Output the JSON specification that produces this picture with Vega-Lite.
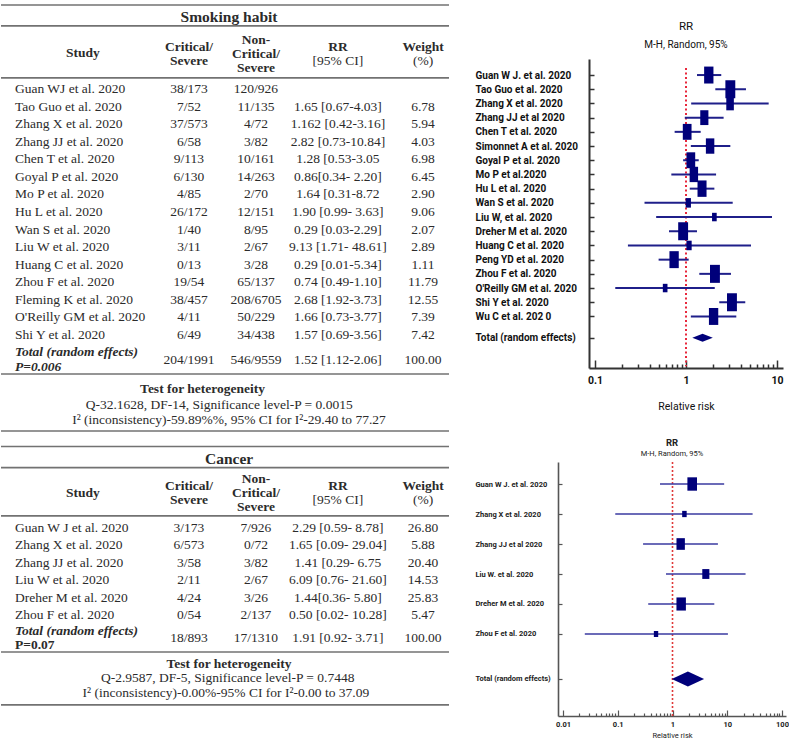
{
  "$schema": "https://vega.github.io/schema/vega-lite/v6.json",
  "background": "white",
  "padding": 0,
  "spacing": 5,
  "resolve": {"scale": {"size": "independent"}},
  "config": {
    "view": {"stroke": null},
    "text": {"font": "Liberation Serif", "fontSize": 13.5, "color": "#2b2b2b", "baseline": "middle"},
    "rule": {"color": "#727272", "strokeWidth": 1.6},
    "axis": {"labelOverlap": false}
  },
  "datasets": {
    "smoking": [
      {"study": "Guan WJ et al. 2020", "crit": "38/173", "non": "120/926", "rr": "", "w": ""},
      {"study": "Tao Guo et al. 2020", "crit": "7/52", "non": "11/135", "rr": "1.65 [0.67-4.03]", "w": "6.78"},
      {"study": "Zhang  X et al. 2020", "crit": "37/573", "non": "4/72", "rr": "1.162 [0.42-3.16]", "w": "5.94"},
      {"study": "Zhang  JJ et al. 2020", "crit": "6/58", "non": "3/82", "rr": "2.82 [0.73-10.84]", "w": "4.03"},
      {"study": "Chen T et al. 2020", "crit": "9/113", "non": "10/161", "rr": "1.28 [0.53-3.05", "w": "6.98"},
      {"study": "Goyal P et al. 2020", "crit": "6/130", "non": "14/263", "rr": "0.86[0.34- 2.20]", "w": "6.45"},
      {"study": "Mo P et al. 2020", "crit": "4/85", "non": "2/70", "rr": "1.64 [0.31-8.72", "w": "2.90"},
      {"study": "Hu L et al. 2020", "crit": "26/172", "non": "12/151", "rr": "1.90 [0.99- 3.63]", "w": "9.06"},
      {"study": "Wan S et al. 2020", "crit": "1/40", "non": "8/95", "rr": "0.29 [0.03-2.29]", "w": "2.07"},
      {"study": "Liu W et al. 2020", "crit": "3/11", "non": "2/67", "rr": "9.13 [1.71- 48.61]", "w": "2.89"},
      {"study": "Huang  C et al. 2020", "crit": "0/13", "non": "3/28", "rr": "0.29 [0.01-5.34]", "w": "1.11"},
      {"study": "Zhou F et al. 2020", "crit": "19/54", "non": "65/137", "rr": "0.74 [0.49-1.10]", "w": "11.79"},
      {"study": "Fleming  K et al. 2020", "crit": "38/457", "non": "208/6705", "rr": "2.68 [1.92-3.73]", "w": "12.55"},
      {"study": "O'Reilly  GM et al. 2020", "crit": "4/11", "non": "50/229", "rr": "1.66 [0.73-3.77]", "w": "7.39"},
      {"study": "Shi Y et al. 2020", "crit": "6/49", "non": "34/438", "rr": "1.57 [0.69-3.56]", "w": "7.42"}
    ],
    "smokingTotal": [
      {"study": "Total (random effects)", "p": "P=0.006", "crit": "204/1991", "non": "546/9559", "rr": "1.52 [1.12-2.06]", "w": "100.00"}
    ],
    "cancer": [
      {"study": "Guan W J et al. 2020", "crit": "3/173", "non": "7/926", "rr": "2.29 [0.59- 8.78]", "w": "26.80"},
      {"study": "Zhang  X et al. 2020", "crit": "6/573", "non": "0/72", "rr": "1.65 [0.09- 29.04]", "w": "5.88"},
      {"study": "Zhang  JJ et al. 2020", "crit": "3/58", "non": "3/82", "rr": "1.41 [0.29- 6.75", "w": "20.40"},
      {"study": "Liu W et al. 2020", "crit": "2/11", "non": "2/67", "rr": "6.09 [0.76- 21.60]", "w": "14.53"},
      {"study": "Dreher  M et al. 2020", "crit": "4/24", "non": "3/26", "rr": "1.44[0.36- 5.80]", "w": "25.83"},
      {"study": "Zhou  F et al. 2020", "crit": "0/54", "non": "2/137", "rr": "0.50 [0.02- 10.28]", "w": "5.47"}
    ],
    "cancerTotal": [
      {"study": "Total (random effects)", "p": "P=0.07", "crit": "18/893", "non": "17/1310", "rr": "1.91 [0.92- 3.71]", "w": "100.00"}
    ],
    "forestSmoking": [
      {"study": "Guan W J. et al. 2020", "rr": 1.78, "lo": 1.32, "hi": 2.44, "weight": 6.94},
      {"study": "Tao Guo et al. 2020", "rr": 3.07, "lo": 2.10, "hi": 4.56, "weight": 7.83},
      {"study": "Zhang X et al. 2020", "rr": 3.05, "lo": 1.14, "hi": 8.1, "weight": 4.58},
      {"study": "Zhang JJ et al 2020", "rr": 1.59, "lo": 0.97, "hi": 2.59, "weight": 5.31},
      {"study": "Chen T et al. 2020", "rr": 1.03, "lo": 0.75, "hi": 1.45, "weight": 6.10},
      {"study": "Simonnet A  et al. 2020", "rr": 1.84, "lo": 1.13, "hi": 3.07, "weight": 5.69},
      {"study": "Goyal P et al. 2020", "rr": 1.13, "lo": 0.93, "hi": 1.38, "weight": 6.10},
      {"study": "Mo P et al.2020", "rr": 1.22, "lo": 0.69, "hi": 2.14, "weight": 5.69},
      {"study": "Hu L et al. 2020", "rr": 1.50, "lo": 1.10, "hi": 2.05, "weight": 6.51},
      {"study": "Wan S et al. 2020", "rr": 1.06, "lo": 0.35, "hi": 3.26, "weight": 2.20},
      {"study": "Liu W, et al. 2020", "rr": 2.05, "lo": 0.47, "hi": 8.81, "weight": 1.73},
      {"study": "Dreher M  et al. 2020", "rr": 0.93, "lo": 0.65, "hi": 1.32, "weight": 7.83},
      {"study": "Huang C et al. 2020", "rr": 1.08, "lo": 0.23, "hi": 5.18, "weight": 2.20},
      {"study": "Peng YD et al. 2020", "rr": 0.74, "lo": 0.50, "hi": 1.07, "weight": 6.94},
      {"study": "Zhou F et al. 2020", "rr": 2.08, "lo": 1.40, "hi": 3.12, "weight": 7.83},
      {"study": "O'Reilly GM et al. 2020", "rr": 0.59, "lo": 0.167, "hi": 2.07, "weight": 1.73},
      {"study": "Shi Y et al. 2020", "rr": 3.20, "lo": 2.32, "hi": 4.48, "weight": 7.83},
      {"study": "Wu C et al. 202 0", "rr": 2.01, "lo": 1.13, "hi": 3.57, "weight": 6.94}
    ],
    "forestSmokingTotal": [
      {"study": "Total (random effects)", "rr": 1.52, "lo": 1.12, "hi": 2.06}
    ],
    "forestCancer": [
      {"study": "Guan W J. et al. 2020", "rr": 2.29, "lo": 0.59, "hi": 8.78, "weight": 26.80},
      {"study": "Zhang X et al. 2020", "rr": 1.65, "lo": 0.09, "hi": 29.04, "weight": 5.88},
      {"study": "Zhang JJ et al 2020", "rr": 1.41, "lo": 0.29, "hi": 6.75, "weight": 20.40},
      {"study": "Liu W. et al. 2020", "rr": 4.06, "lo": 0.76, "hi": 21.60, "weight": 14.53},
      {"study": "Dreher M  et al. 2020", "rr": 1.44, "lo": 0.36, "hi": 5.80, "weight": 25.83},
      {"study": "Zhou F et al. 2020", "rr": 0.50, "lo": 0.025, "hi": 10.28, "weight": 5.47}
    ],
    "forestCancerTotal": [
      {"study": "Total (random effects)", "rr": 1.91, "lo": 0.92, "hi": 3.71}
    ]
  },
  "vconcat": [
    {
      "hconcat": [
        {
          "width": 448,
          "height": 374,
          "layer": [
            {
              "data": {"name": "smoking"},
              "transform": [{"window": [{"op": "row_number", "as": "row"}]}],
              "encoding": {
                "y": {"field": "row", "type": "quantitative",
                  "scale": {"domain": [-0.707, 20.58], "reverse": true, "nice": false, "zero": false},
                  "axis": null}
              },
              "layer": [
                {"mark": {"type": "text", "align": "left"}, "encoding": {"x": {"datum": 3.125, "type": "quantitative", "scale": {"domain": [0, 100], "nice": false, "zero": false}, "axis": null}, "text": {"field": "study"}}},
                {"mark": {"type": "text"}, "encoding": {"x": {"datum": 41.96, "axis": null}, "text": {"field": "crit"}}},
                {"mark": {"type": "text"}, "encoding": {"x": {"datum": 56.9, "axis": null}, "text": {"field": "non"}}},
                {"mark": {"type": "text"}, "encoding": {"x": {"datum": 75.2, "axis": null}, "text": {"field": "rr"}}},
                {"mark": {"type": "text"}, "encoding": {"x": {"datum": 94.2, "axis": null}, "text": {"field": "w"}}}
              ]
            },
            {
              "data": {"name": "smokingTotal"},
              "encoding": {"y": {"datum": 16.4, "axis": null}},
              "layer": [
                {"mark": {"type": "text", "align": "left", "fontWeight": "bold", "fontStyle": "italic", "dy": -7.5}, "encoding": {"x": {"datum": 3.125, "axis": null}, "text": {"field": "study"}}},
                {"mark": {"type": "text", "align": "left", "fontWeight": "bold", "fontStyle": "italic", "dy": 7.5}, "encoding": {"x": {"datum": 3.125, "axis": null}, "text": {"field": "p"}}},
                {"mark": {"type": "text"}, "encoding": {"x": {"datum": 41.96, "axis": null}, "text": {"field": "crit"}}},
                {"mark": {"type": "text"}, "encoding": {"x": {"datum": 56.9, "axis": null}, "text": {"field": "non"}}},
                {"mark": {"type": "text"}, "encoding": {"x": {"datum": 75.2, "axis": null}, "text": {"field": "rr"}}},
                {"mark": {"type": "text"}, "encoding": {"x": {"datum": 94.2, "axis": null}, "text": {"field": "w"}}}
              ]
            },
            {
              "data": {"values": [{}]},
              "layer": [
                {"mark": {"type": "rule"}, "encoding": {"x": {"datum": 0, "axis": null}, "x2": {"datum": 100}, "y": {"datum": -3.78, "axis": null}}},
                {"mark": {"type": "rule"}, "encoding": {"x": {"datum": 0, "axis": null}, "x2": {"datum": 100}, "y": {"datum": -2.59, "axis": null}}},
                {"mark": {"type": "rule"}, "encoding": {"x": {"datum": 0, "axis": null}, "x2": {"datum": 100}, "y": {"datum": 0.37, "axis": null}}},
                {"mark": {"type": "rule"}, "encoding": {"x": {"datum": 0, "axis": null}, "x2": {"datum": 100}, "y": {"datum": 17.22, "axis": null}}},
                {"mark": {"type": "rule"}, "encoding": {"x": {"datum": 0, "axis": null}, "x2": {"datum": 100}, "y": {"datum": 20.47, "axis": null}}},
                {"mark": {"type": "text", "fontWeight": "bold", "fontSize": 15.5}, "encoding": {"x": {"datum": 50.9, "axis": null}, "y": {"datum": -3.1, "axis": null}, "text": {"value": "Smoking habit"}}},
                {"mark": {"type": "text", "fontWeight": "bold"}, "encoding": {"x": {"datum": 18.3, "axis": null}, "y": {"datum": -1.05, "axis": null}, "text": {"value": "Study"}}},
                {"mark": {"type": "text", "fontWeight": "bold", "dy": -7}, "encoding": {"x": {"datum": 41.96, "axis": null}, "y": {"datum": -1.02, "axis": null}, "text": {"value": "Critical/"}}},
                {"mark": {"type": "text", "fontWeight": "bold", "dy": 7}, "encoding": {"x": {"datum": 41.96, "axis": null}, "y": {"datum": -1.02, "axis": null}, "text": {"value": "Severe"}}},
                {"mark": {"type": "text", "fontWeight": "bold", "dy": -14}, "encoding": {"x": {"datum": 56.9, "axis": null}, "y": {"datum": -1.02, "axis": null}, "text": {"value": "Non-"}}},
                {"mark": {"type": "text", "fontWeight": "bold"}, "encoding": {"x": {"datum": 56.9, "axis": null}, "y": {"datum": -1.02, "axis": null}, "text": {"value": "Critical/"}}},
                {"mark": {"type": "text", "fontWeight": "bold", "dy": 14}, "encoding": {"x": {"datum": 56.9, "axis": null}, "y": {"datum": -1.02, "axis": null}, "text": {"value": "Severe"}}},
                {"mark": {"type": "text", "fontWeight": "bold", "dy": -7}, "encoding": {"x": {"datum": 75.2, "axis": null}, "y": {"datum": -1.02, "axis": null}, "text": {"value": "RR"}}},
                {"mark": {"type": "text", "dy": 7}, "encoding": {"x": {"datum": 75.2, "axis": null}, "y": {"datum": -1.02, "axis": null}, "text": {"value": "[95% CI]"}}},
                {"mark": {"type": "text", "fontWeight": "bold", "dy": -7}, "encoding": {"x": {"datum": 94.2, "axis": null}, "y": {"datum": -1.02, "axis": null}, "text": {"value": "Weight"}}},
                {"mark": {"type": "text", "dy": 7}, "encoding": {"x": {"datum": 94.2, "axis": null}, "y": {"datum": -1.02, "axis": null}, "text": {"value": "(%)"}}},
                {"mark": {"type": "text", "fontWeight": "bold"}, "encoding": {"x": {"datum": 45, "axis": null}, "y": {"datum": 18.07, "axis": null}, "text": {"value": "Test for heterogeneity"}}},
                {"mark": {"type": "text"}, "encoding": {"x": {"datum": 48.7, "axis": null}, "y": {"datum": 18.98, "axis": null}, "text": {"value": "Q-32.1628, DF-14, Significance  level-P = 0.0015"}}},
                {"mark": {"type": "text"}, "encoding": {"x": {"datum": 50.9, "axis": null}, "y": {"datum": 19.84, "axis": null}, "text": {"value": "I² (inconsistency)-59.89%%,  95% CI for I²-29.40 to 77.27"}}}
              ]
            }
          ]
        },
        {
          "width": 194,
          "height": 309,
          "title": {"text": ["", "RR"], "subtitle": "M-H, Random, 95%", "font": "Roboto", "fontSize": 11.5, "fontWeight": "normal", "color": "#111111", "lineHeight": 20, "subtitleFont": "Roboto", "subtitleFontSize": 10, "subtitleColor": "#111111", "subtitlePadding": 8, "offset": 9, "anchor": "middle"},
          "layer": [
            {
              "data": {"values": [{}]},
              "mark": {"type": "rule", "color": "#e8283c", "strokeDash": [2, 2.5], "strokeWidth": 2},
              "encoding": {"x": {"datum": 1, "type": "quantitative"}, "y": {"datum": "t2", "type": "nominal"}, "y2": {"datum": "b23"}}
            },
            {
              "data": {"name": "forestSmoking"},
              "mark": {"type": "rule", "color": "#1f1f8a", "strokeWidth": 2},
              "encoding": {
                "x": {"field": "lo", "type": "quantitative",
                  "scale": {"type": "log", "domain": [0.0859, 11.64], "nice": false},
                  "axis": {"values": [0.1, 0.2, 0.3, 0.4, 0.5, 0.6, 0.7, 0.8, 0.9, 1, 2, 3, 4, 5, 6, 7, 8, 9, 10],
                    "labelExpr": "datum.value == 0.1 ? '0.1' : datum.value == 1 ? '1' : datum.value == 10 ? '10' : ''",
                    "tickSize": -8, "tickDash": {"condition": {"test": "datum.value == 0.1 || datum.value == 1 || datum.value == 10", "value": []}, "value": [4, 20]},
                    "tickColor": "#333333", "tickWidth": 1.5, "domainColor": "#333333", "domainWidth": 2,
                    "labelFont": "Roboto", "labelFontSize": 10.5, "labelFontWeight": "bold", "labelColor": "#111111", "labelPadding": 15, "labelFlush": false,
                    "title": "Relative risk", "titleFont": "Roboto", "titleFontSize": 10.5, "titleFontWeight": "normal", "titleColor": "#111111", "titlePadding": 16, "grid": false}},
                "x2": {"field": "hi"},
                "y": {"field": "study", "type": "nominal",
                  "scale": {"type": "point", "padding": 0.26, "domain": ["t1", "t2", "Guan W J. et al. 2020", "b1", "Tao Guo et al. 2020", "b2", "Zhang X et al. 2020", "b3", "Zhang JJ et al 2020", "b4", "Chen T et al. 2020", "b5", "Simonnet A  et al. 2020", "b6", "Goyal P et al. 2020", "b7", "Mo P et al.2020", "b8", "Hu L et al. 2020", "b9", "Wan S et al. 2020", "b10", "Liu W, et al. 2020", "b11", "Dreher M  et al. 2020", "b12", "Huang C et al. 2020", "b13", "Peng YD et al. 2020", "b14", "Zhou F et al. 2020", "b15", "O'Reilly GM et al. 2020", "b16", "Shi Y et al. 2020", "b17", "Wu C et al. 202 0", "b18", "b19", "Total (random effects)", "b20", "b21", "b22", "b23"]},
                  "axis": {"values": ["Guan W J. et al. 2020", "Tao Guo et al. 2020", "Zhang X et al. 2020", "Zhang JJ et al 2020", "Chen T et al. 2020", "Simonnet A  et al. 2020", "Goyal P et al. 2020", "Mo P et al.2020", "Hu L et al. 2020", "Wan S et al. 2020", "Liu W, et al. 2020", "Dreher M  et al. 2020", "Huang C et al. 2020", "Peng YD et al. 2020", "Zhou F et al. 2020", "O'Reilly GM et al. 2020", "Shi Y et al. 2020", "Wu C et al. 202 0", "Total (random effects)"],
                    "labelAlign": "left", "labelPadding": 119, "tickSize": -5, "tickColor": "#333333", "tickWidth": 1.5, "domainColor": "#333333", "domainWidth": 2,
                    "labelFont": "Roboto", "labelFontSize": 10, "labelFontWeight": "bold", "labelColor": "#111111", "labelLimit": 200, "title": null, "grid": false}}
              }
            },
            {
              "data": {"name": "forestSmoking"},
              "mark": {"type": "point", "shape": "M-0.55,-1L0.55,-1L0.55,1L-0.55,1Z", "filled": true, "color": "#00007a", "opacity": 1, "strokeWidth": 0},
              "encoding": {
                "x": {"field": "rr", "type": "quantitative"},
                "y": {"field": "study", "type": "nominal"},
                "size": {"field": "weight", "type": "quantitative", "scale": {"domain": [0, 10], "range": [0, 414]}, "legend": null}
              }
            },
            {
              "data": {"name": "forestSmokingTotal"},
              "mark": {"type": "point", "shape": "M-1,0L0,-0.38L1,0L0,0.38Z", "filled": true, "color": "#00007a", "opacity": 1, "size": 420, "strokeWidth": 0},
              "encoding": {
                "x": {"field": "rr", "type": "quantitative"},
                "y": {"field": "study", "type": "nominal"}
              }
            }
          ]
        }
      ],
      "spacing": 25
    },
    {
      "hconcat": [
        {
          "width": 448,
          "height": 254,
          "layer": [
            {
              "data": {"name": "cancer"},
              "transform": [{"window": [{"op": "row_number", "as": "row"}]}],
              "encoding": {
                "y": {"field": "row", "type": "quantitative",
                  "scale": {"domain": [-2.793, 11.8], "reverse": true, "nice": false, "zero": false},
                  "axis": null}
              },
              "layer": [
                {"mark": {"type": "text", "align": "left"}, "encoding": {"x": {"datum": 3.125, "type": "quantitative", "scale": {"domain": [0, 100], "nice": false, "zero": false}, "axis": null}, "text": {"field": "study"}}},
                {"mark": {"type": "text"}, "encoding": {"x": {"datum": 41.96, "axis": null}, "text": {"field": "crit"}}},
                {"mark": {"type": "text"}, "encoding": {"x": {"datum": 56.9, "axis": null}, "text": {"field": "non"}}},
                {"mark": {"type": "text"}, "encoding": {"x": {"datum": 75.2, "axis": null}, "text": {"field": "rr"}}},
                {"mark": {"type": "text"}, "encoding": {"x": {"datum": 94.2, "axis": null}, "text": {"field": "w"}}}
              ]
            },
            {
              "data": {"name": "cancerTotal"},
              "encoding": {"y": {"datum": 7.3, "axis": null}},
              "layer": [
                {"mark": {"type": "text", "align": "left", "fontWeight": "bold", "fontStyle": "italic", "dy": -7}, "encoding": {"x": {"datum": 3.125, "axis": null}, "text": {"field": "study"}}},
                {"mark": {"type": "text", "align": "left", "fontWeight": "bold", "dy": 7}, "encoding": {"x": {"datum": 3.125, "axis": null}, "text": {"field": "p"}}},
                {"mark": {"type": "text"}, "encoding": {"x": {"datum": 41.96, "axis": null}, "text": {"field": "crit"}}},
                {"mark": {"type": "text"}, "encoding": {"x": {"datum": 56.9, "axis": null}, "text": {"field": "non"}}},
                {"mark": {"type": "text"}, "encoding": {"x": {"datum": 75.2, "axis": null}, "text": {"field": "rr"}}},
                {"mark": {"type": "text"}, "encoding": {"x": {"datum": 94.2, "axis": null}, "text": {"field": "w"}}}
              ]
            },
            {
              "data": {"values": [{}]},
              "layer": [
                {"mark": {"type": "rule"}, "encoding": {"x": {"datum": 0, "axis": null}, "x2": {"datum": 100}, "y": {"datum": -3.68, "axis": null}}},
                {"mark": {"type": "rule"}, "encoding": {"x": {"datum": 0, "axis": null}, "x2": {"datum": 100}, "y": {"datum": -2.47, "axis": null}}},
                {"mark": {"type": "rule"}, "encoding": {"x": {"datum": 0, "axis": null}, "x2": {"datum": 100}, "y": {"datum": 0.3, "axis": null}}},
                {"mark": {"type": "rule"}, "encoding": {"x": {"datum": 0, "axis": null}, "x2": {"datum": 100}, "y": {"datum": 8.12, "axis": null}}},
                {"mark": {"type": "rule"}, "encoding": {"x": {"datum": 0, "axis": null}, "x2": {"datum": 100}, "y": {"datum": 11.16, "axis": null}}},
                {"mark": {"type": "text", "fontWeight": "bold", "fontSize": 15.5}, "encoding": {"x": {"datum": 50.9, "axis": null}, "y": {"datum": -2.97, "axis": null}, "text": {"value": "Cancer"}}},
                {"mark": {"type": "text", "fontWeight": "bold"}, "encoding": {"x": {"datum": 18.3, "axis": null}, "y": {"datum": -1.0, "axis": null}, "text": {"value": "Study"}}},
                {"mark": {"type": "text", "fontWeight": "bold", "dy": -7}, "encoding": {"x": {"datum": 41.96, "axis": null}, "y": {"datum": -1.0, "axis": null}, "text": {"value": "Critical/"}}},
                {"mark": {"type": "text", "fontWeight": "bold", "dy": 7}, "encoding": {"x": {"datum": 41.96, "axis": null}, "y": {"datum": -1.0, "axis": null}, "text": {"value": "Severe"}}},
                {"mark": {"type": "text", "fontWeight": "bold", "dy": -14}, "encoding": {"x": {"datum": 56.9, "axis": null}, "y": {"datum": -1.0, "axis": null}, "text": {"value": "Non-"}}},
                {"mark": {"type": "text", "fontWeight": "bold"}, "encoding": {"x": {"datum": 56.9, "axis": null}, "y": {"datum": -1.0, "axis": null}, "text": {"value": "Critical/"}}},
                {"mark": {"type": "text", "fontWeight": "bold", "dy": 14}, "encoding": {"x": {"datum": 56.9, "axis": null}, "y": {"datum": -1.0, "axis": null}, "text": {"value": "Severe"}}},
                {"mark": {"type": "text", "fontWeight": "bold", "dy": -7}, "encoding": {"x": {"datum": 75.2, "axis": null}, "y": {"datum": -1.0, "axis": null}, "text": {"value": "RR"}}},
                {"mark": {"type": "text", "dy": 7}, "encoding": {"x": {"datum": 75.2, "axis": null}, "y": {"datum": -1.0, "axis": null}, "text": {"value": "[95% CI]"}}},
                {"mark": {"type": "text", "fontWeight": "bold", "dy": -7}, "encoding": {"x": {"datum": 94.2, "axis": null}, "y": {"datum": -1.0, "axis": null}, "text": {"value": "Weight"}}},
                {"mark": {"type": "text", "dy": 7}, "encoding": {"x": {"datum": 94.2, "axis": null}, "y": {"datum": -1.0, "axis": null}, "text": {"value": "(%)"}}},
                {"mark": {"type": "text", "fontWeight": "bold"}, "encoding": {"x": {"datum": 50.9, "axis": null}, "y": {"datum": 8.81, "axis": null}, "text": {"value": "Test for heterogeneity"}}},
                {"mark": {"type": "text"}, "encoding": {"x": {"datum": 50.6, "axis": null}, "y": {"datum": 9.62, "axis": null}, "text": {"value": "Q-2.9587, DF-5, Significance  level-P = 0.7448"}}},
                {"mark": {"type": "text"}, "encoding": {"x": {"datum": 50.2, "axis": null}, "y": {"datum": 10.48, "axis": null}, "text": {"value": "I² (inconsistency)-0.00%-95%  CI for I²-0.00 to 37.09"}}}
              ]
            }
          ]
        },
        {
          "width": 228,
          "height": 254,
          "title": {"text": "RR", "subtitle": "M-H, Random, 95%", "font": "Roboto", "fontSize": 9.5, "fontWeight": "bold", "color": "#222222", "subtitleFont": "Roboto", "subtitleFontSize": 7.5, "subtitleColor": "#222222", "subtitlePadding": 2, "offset": 4, "anchor": "middle"},
          "layer": [
            {
              "data": {"values": [{}]},
              "mark": {"type": "rule", "color": "#e03a3a", "strokeDash": [2, 2], "strokeWidth": 1.6},
              "encoding": {"x": {"datum": 1, "type": "quantitative"}}
            },
            {
              "data": {"name": "forestCancer"},
              "mark": {"type": "rule", "color": "#3a3aa0", "strokeWidth": 1.4},
              "encoding": {
                "x": {"field": "lo", "type": "quantitative",
                  "scale": {"type": "log", "domain": [0.0081, 118.3], "nice": false},
                  "axis": {"values": [0.01, 0.02, 0.03, 0.04, 0.05, 0.06, 0.07, 0.08, 0.09, 0.1, 0.2, 0.3, 0.4, 0.5, 0.6, 0.7, 0.8, 0.9, 1, 2, 3, 4, 5, 6, 7, 8, 9, 10, 20, 30, 40, 50, 60, 70, 80, 90, 100],
                    "labelExpr": "datum.value == 0.01 ? '0.01' : datum.value == 0.1 ? '0.1' : datum.value == 1 ? '1' : datum.value == 10 ? '10' : datum.value == 100 ? '100' : ''",
                    "tickSize": -6, "tickDash": {"condition": {"test": "datum.value == 0.01 || datum.value == 0.1 || datum.value == 1 || datum.value == 10 || datum.value == 100", "value": []}, "value": [3, 20]},
                    "tickColor": "#555555", "tickWidth": 1.2, "domainColor": "#555555", "domainWidth": 1.6,
                    "labelFont": "Roboto", "labelFontSize": 7.5, "labelFontWeight": "bold", "labelColor": "#222222", "labelPadding": 10, "labelFlush": false,
                    "title": "Relative risk", "titleFont": "Roboto", "titleFontSize": 7.5, "titleFontWeight": "normal", "titleColor": "#222222", "titlePadding": 4, "grid": false}},
                "x2": {"field": "hi"},
                "y": {"field": "study", "type": "nominal",
                  "scale": {"type": "point", "padding": 0.467, "domain": ["c0", "Guan W J. et al. 2020", "c1", "Zhang X et al. 2020", "c2", "Zhang JJ et al 2020", "c3", "Liu W. et al. 2020", "c4", "Dreher M  et al. 2020", "c5", "Zhou F et al. 2020", "c6", "c7", "Total (random effects)", "c8", "c9"]},
                  "axis": {"values": ["Guan W J. et al. 2020", "Zhang X et al. 2020", "Zhang JJ et al 2020", "Liu W. et al. 2020", "Dreher M  et al. 2020", "Zhou F et al. 2020", "Total (random effects)"],
                    "labelAlign": "left", "labelPadding": 87, "tickSize": -4, "tickColor": "#555555", "tickWidth": 1.2, "domainColor": "#555555", "domainWidth": 1.6,
                    "labelFont": "Roboto", "labelFontSize": 7.5, "labelFontWeight": "bold", "labelColor": "#222222", "labelLimit": 200, "title": null, "grid": false}}
              }
            },
            {
              "data": {"name": "forestCancer"},
              "mark": {"type": "point", "shape": "M-0.72,-1L0.72,-1L0.72,1L-0.72,1Z", "filled": true, "color": "#00007a", "opacity": 1, "strokeWidth": 0},
              "encoding": {
                "x": {"field": "rr", "type": "quantitative"},
                "y": {"field": "study", "type": "nominal"},
                "size": {"field": "weight", "type": "quantitative", "scale": {"domain": [0, 30], "range": [0, 200]}, "legend": null}
              }
            },
            {
              "data": {"name": "forestCancerTotal"},
              "mark": {"type": "point", "shape": "M-1,0L0,-0.46L1,0L0,0.46Z", "filled": true, "color": "#00007a", "opacity": 1, "size": 1050, "strokeWidth": 0},
              "encoding": {
                "x": {"field": "rr", "type": "quantitative"},
                "y": {"field": "study", "type": "nominal"}
              }
            }
          ]
        }
      ],
      "spacing": 25
    }
  ]
}
